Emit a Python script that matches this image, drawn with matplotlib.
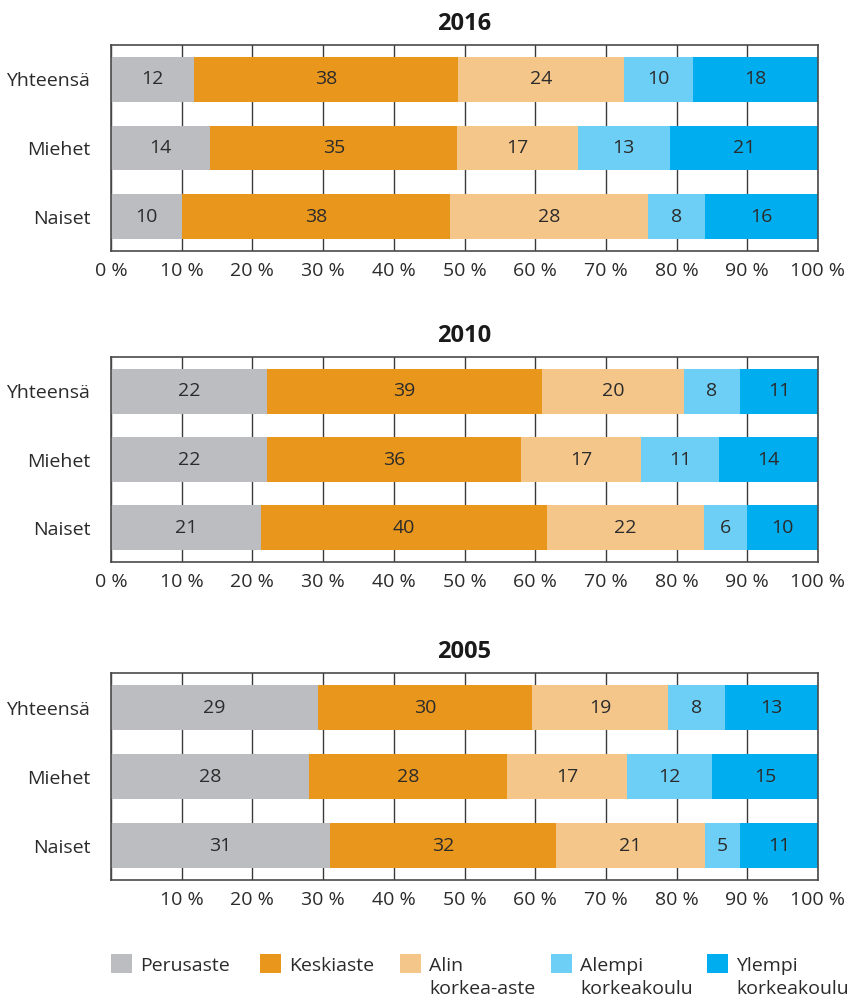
import matplotlib
matplotlib.use("Agg")
import matplotlib.pyplot as plt
from matplotlib.patches import Rectangle
import numpy as np

plt.rcParams['font.family'] = ['Open Sans', 'DejaVu Sans']

years = ["2016", "2010", "2005"]
groups = ["Yhteensä", "Miehet", "Naiset"]
levels = ["Perusaste", "Keskiaste", "Alin\nkorkea-aste", "Alempi\nkorkeakoulu", "Ylempi\nkorkeakoulu"]
colors = ["#BCBDC0", "#E8961C", "#F5C68A", "#6DCFF6", "#00AEEF"]

# rows: Yhteensä, Miehet, Naiset ; cols: the five levels
values_2016 = [[12, 38, 24, 10, 18],
               [14, 35, 17, 13, 21],
               [10, 38, 28, 8, 16]]
values_2010 = [[22, 39, 20, 8, 11],
               [22, 36, 17, 11, 14],
               [21, 40, 22, 6, 10]]
values_2005 = [[29, 30, 19, 8, 13],
               [28, 28, 17, 12, 15],
               [31, 32, 21, 5, 11]]
all_values = [values_2016, values_2010, values_2005]

xticks = [0, 10, 20, 30, 40, 50, 60, 70, 80, 90, 100]
xticklabels = [f"{t} %" for t in xticks]

W, H = 857, 997
fig = plt.figure(figsize=(W / 100, H / 100), dpi=100)

txt = "#2b2b2b"
fs = 14
panel_px = [(45, 251), (357, 562), (673, 880)]
left_px, right_px = 111, 818

for i, (year, vals) in enumerate(zip(years, all_values)):
    top, bot = panel_px[i]
    ax = fig.add_axes([left_px / W, 1 - bot / H, (right_px - left_px) / W, (bot - top) / H])
    arr = np.array(vals, dtype=float)
    pct = arr / arr.sum(axis=1, keepdims=True) * 100
    y = np.arange(len(groups))
    lefts = np.zeros(len(groups))
    for j in range(len(levels)):
        ax.barh(y, pct[:, j], left=lefts, height=0.655, color=colors[j], zorder=3)
        for k in range(len(groups)):
            ax.text(lefts[k] + pct[k, j] / 2, y[k], f"{vals[k][j]}", ha="center", va="center",
                    fontsize=fs, color=txt, zorder=4)
        lefts += pct[:, j]
    ax.set_xlim(0, 100)
    ax.set_ylim(2.5, -0.5)
    ax.set_yticks(y)
    ax.set_yticklabels(groups, fontsize=fs, color=txt)
    ax.set_xticks(xticks)
    if i == 2:
        ax.set_xticklabels([""] + xticklabels[1:], fontsize=fs, color=txt)
    else:
        ax.set_xticklabels(xticklabels, fontsize=fs, color=txt)
    ax.tick_params(axis="both", length=0)
    ax.tick_params(axis="x", pad=8)
    ax.tick_params(axis="y", pad=15)
    ax.grid(axis="x", color="#3a3a3a", linewidth=1.0, zorder=1)
    for s in ax.spines.values():
        s.set_color("#4a4a4a")
        s.set_linewidth(1.2)
        s.set_zorder(5)
    ax.set_title(year, fontsize=17, fontweight="bold", color="#1a1a1a", pad=11)

# legend
leg_x = [111, 260, 400, 551, 707]
sq_top, sq_bot = 954, 973
for xx, lab, c in zip(leg_x, levels, colors):
    fig.patches.append(Rectangle((xx / W, 1 - sq_bot / H), 21 / W, (sq_bot - sq_top) / H,
                                 transform=fig.transFigure, facecolor=c, edgecolor="none"))
    lines = lab.split("\n")
    for n, line in enumerate(lines):
        fig.text((xx + 29) / W, 1 - (971 + 23 * n) / H, line, ha="left", va="baseline",
                 fontsize=fs, color=txt)

fig.savefig("out.png", dpi=100)
